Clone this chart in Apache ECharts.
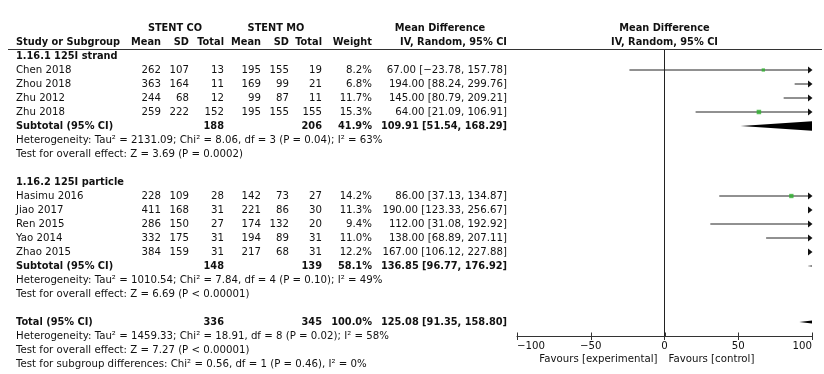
<!DOCTYPE html>
<html><head><meta charset="utf-8">
<script src="https://cdn.jsdelivr.net/npm/echarts@6/dist/echarts.min.js"></script>
<style>html,body{margin:0;padding:0;background:#fff}#c{width:824px;height:374px}</style>
</head><body><div id="c"></div>
<script>
// ---- data ----
const studies = ['Chen 2018','Zhou 2018','Zhu 2012','Zhu 2018','Hasimu 2016','Jiao 2017','Ren 2015','Yao 2014','Zhao 2015'];
const coMean  = [262,363,244,259,228,411,286,332,384];
const coSD    = [107,164,68,222,109,168,150,175,159];
const coTotal = [13,11,12,152,28,31,27,31,31];
const moMean  = [195,169,99,195,142,221,174,194,217];
const moSD    = [155,99,87,155,73,86,132,89,68];
const moTotal = [19,21,11,155,27,30,20,31,31];
const weight  = [8.2,6.8,11.7,15.3,14.2,11.3,9.4,11.0,12.2];
const md      = [67.00,194.00,145.00,64.00,86.00,190.00,112.00,138.00,167.00];
const ciLo    = [-23.78,88.24,80.79,21.09,37.13,123.33,31.08,68.89,106.12];
const ciHi    = [157.78,299.76,209.21,106.91,134.87,256.67,192.92,207.11,227.88];

const subgroupNames   = ['1.16.1 125I strand','1.16.2 125I particle'];
const subgroupMembers = [[0,1,2,3],[4,5,6,7,8]];
const subCO     = [188,148];
const subMO     = [206,139];
const subWeight = [41.9,58.1];
const subMD     = [109.91,136.85];
const subLo     = [51.54,96.77];
const subHi     = [168.29,176.92];
const subHet    = ['Heterogeneity: Tau² = 2131.09; Chi² = 8.06, df = 3 (P = 0.04); I² = 63%',
                   'Heterogeneity: Tau² = 1010.54; Chi² = 7.84, df = 4 (P = 0.10); I² = 49%'];
const subTest   = ['Test for overall effect: Z = 3.69 (P = 0.0002)',
                   'Test for overall effect: Z = 6.69 (P < 0.00001)'];
const totCO = 336, totMO = 345, totWeight = 100.0, totMD = 125.08, totLo = 91.35, totHi = 158.80;
const totHet  = 'Heterogeneity: Tau² = 1459.33; Chi² = 18.91, df = 8 (P = 0.02); I² = 58%';
const totTest = 'Test for overall effect: Z = 7.27 (P < 0.00001)';
const subDiff = 'Test for subgroup differences: Chi² = 0.56, df = 1 (P = 0.46), I² = 0%';
const xMin = -100, xMax = 100, xStep = 50;
const xTicks = [-100, -50, 0, 50, 100];
const favLeft = 'Favours [experimental]', favRight = 'Favours [control]';

// ---- styling / layout ----
const FONT = 'DejaVu Sans';
const FS = 10.2, FSB = 9.8;
const TXT = '#111';
const colX = {study:16, coMean:161, coSD:189, coTotal:224, moMean:261, moSD:289, moTotal:322, weight:372, ci:507};
const Y_MIN = -0.5, Y_MAX = 20;

const fmt = v => v.toFixed(2).replace('-', '−');
const ciStr = (m,l,h) => fmt(m) + ' [' + fmt(l) + ', ' + fmt(h) + ']';

// build table rows
const rows = [];
function numRow(r, name, a, bold){
  const cells = [{text:name, x:colX.study, align:'left', bold}];
  const keys = ['coMean','coSD','coTotal','moMean','moSD','moTotal','weight','ci'];
  keys.forEach((k,i)=>{ if (a[i] !== null && a[i] !== undefined) cells.push({text:String(a[i]), x:colX[k], align:'right', bold}); });
  rows.push({row:r, cells});
}
rows.push({row:-2, cells:[
  {text:'STENT CO', x:175, align:'center', bold:true},
  {text:'STENT MO', x:276, align:'center', bold:true},
  {text:'Mean Difference', x:440, align:'center', bold:true},
  {text:'Mean Difference', plotX:0, align:'center', bold:true}]});
rows.push({row:-1, cells:[
  {text:'Study or Subgroup', x:colX.study, align:'left', bold:true},
  {text:'Mean', x:colX.coMean, align:'right', bold:true},
  {text:'SD', x:colX.coSD, align:'right', bold:true},
  {text:'Total', x:colX.coTotal, align:'right', bold:true},
  {text:'Mean', x:colX.moMean, align:'right', bold:true},
  {text:'SD', x:colX.moSD, align:'right', bold:true},
  {text:'Total', x:colX.moTotal, align:'right', bold:true},
  {text:'Weight', x:colX.weight, align:'right', bold:true},
  {text:'IV, Random, 95% CI', x:colX.ci, align:'right', bold:true},
  {text:'IV, Random, 95% CI', plotX:0, align:'center', bold:true}]});

const ciData = [], sqData = [], diaData = [];
let r = 0;
subgroupMembers.forEach((mem, g) => {
  rows.push({row:r, cells:[{text:subgroupNames[g], x:colX.study, align:'left', bold:true}]});
  r++;
  mem.forEach(i => {
    numRow(r, studies[i], [coMean[i], coSD[i], coTotal[i], moMean[i], moSD[i], moTotal[i], weight[i].toFixed(1)+'%', ciStr(md[i], ciLo[i], ciHi[i])], false);
    ciData.push([ciLo[i], ciHi[i], r]);
    sqData.push([md[i], r, weight[i]]);
    r++;
  });
  numRow(r, 'Subtotal (95% CI)', [null, null, subCO[g], null, null, subMO[g], subWeight[g].toFixed(1)+'%', ciStr(subMD[g], subLo[g], subHi[g])], true);
  diaData.push([subLo[g], subMD[g], subHi[g], r]);
  r++;
  rows.push({row:r, cells:[{text:subHet[g], x:colX.study, align:'left', bold:false}]}); r++;
  rows.push({row:r, cells:[{text:subTest[g], x:colX.study, align:'left', bold:false}]}); r++;
  r++; // blank
});
numRow(r, 'Total (95% CI)', [null, null, totCO, null, null, totMO, totWeight.toFixed(1)+'%', ciStr(totMD, totLo, totHi)], true);
diaData.push([totLo, totMD, totHi, r]);
r++;
rows.push({row:r, cells:[{text:totHet, x:colX.study, align:'left', bold:false}]}); r++;
rows.push({row:r, cells:[{text:totTest, x:colX.study, align:'left', bold:false}]}); r++;
rows.push({row:r, cells:[{text:subDiff, x:colX.study, align:'left', bold:false}]}); r++;
rows.push({row:21.65, cells:[
  {text:favLeft, plotX:0, dx:-7, align:'right', bold:false},
  {text:favRight, plotX:0, dx:4, align:'left', bold:false}]});

const chart = echarts.init(document.getElementById('c'), null, {renderer:'canvas'});
chart.setOption({
  animation:false,
  backgroundColor:'#fff',
  textStyle:{fontFamily:FONT},
  graphic:[{type:'line', shape:{x1:8, y1:49.5, x2:822, y2:49.5}, style:{stroke:'#333', lineWidth:1}, z:100}],
  grid:{left:517, width:295, top:49, height:287},
  xAxis:{
    type:'value', min:xMin, max:xMax, interval:xStep,
    splitLine:{show:false},
    axisLine:{show:true, onZero:false, lineStyle:{color:'#333', width:1}},
    axisTick:{show:true, length:4, lineStyle:{color:'#333'}},
    axisLabel:{show:true, fontFamily:FONT, fontSize:10.2, color:TXT, margin:5,
      alignMinLabel:'left', alignMaxLabel:'right',
      formatter: v => String(v).replace('-', '−')}
  },
  yAxis:{type:'value', inverse:true, min:Y_MIN, max:Y_MAX, show:false},
  series:[
    {
      type:'custom', name:'table', clip:false, silent:true,
      data: rows.map(o => [o.row]),
      renderItem(params, api){
        const o = rows[params.dataIndex];
        const y = api.coord([0, api.value(0)])[1];
        return {type:'group', children: o.cells.map(c => ({
          type:'text',
          style:{
            text:c.text,
            x: (c.plotX !== undefined ? api.coord([c.plotX, 0])[0] + (c.dx||0) : c.x),
            y: y,
            align:c.align, verticalAlign:'middle',
            font: (c.bold ? 'bold ' + FSB : FS) + 'px "' + FONT + '"',
            fill: TXT
          }
        }))};
      }
    },
    {
      // axis baseline and upward half of the ticks
      type:'custom', name:'ticksUp', clip:false, silent:true, z:5,
      data: xTicks.map(t => [t, Y_MAX]),
      renderItem(params, api){
        const p = api.coord([api.value(0), api.value(1)]);
        const x = Math.round(p[0]) + 0.5;
        const yb = Math.round(p[1]) + 0.5;
        const ch = [{type:'line', shape:{x1:x, y1:yb, x2:x, y2:yb-4}, style:{stroke:'#333', lineWidth:1}}];
        if (params.dataIndex === 0) {
          const a = api.coord([xMin, Y_MAX]), b = api.coord([xMax, Y_MAX]);
          ch.push({type:'line', shape:{x1:a[0], y1:yb, x2:b[0], y2:yb}, style:{stroke:'#333', lineWidth:1}});
        }
        return {type:'group', children:ch};
      }
    },
    {
      type:'custom', name:'ci', clip:false, silent:true,
      data: ciData,
      renderItem(params, api){
        const lo = api.value(0), hi = api.value(1), row = api.value(2);
        const pR = api.coord([Math.min(hi, xMax), row]);
        const pL = api.coord([Math.max(lo, xMin), row]);
        const ch = [];
        const arrow = hi > xMax;
        if (lo < xMax) ch.push({type:'line', shape:{x1:pL[0], y1:pL[1], x2:pR[0] - (arrow ? 3 : 0), y2:pR[1]}, style:{stroke:'#222', lineWidth:1}});
        if (arrow) ch.push({type:'polygon', shape:{points:[[pR[0]+0.5, pR[1]], [pR[0]-4, pR[1]-3.5], [pR[0]-4, pR[1]+3.5]]}, style:{fill:'#111'}});
        return {type:'group', children:ch};
      },
      markLine:{silent:true, symbol:['none','none'], label:{show:false},
        lineStyle:{color:'#222', width:1, type:'solid'}, data:[{xAxis:0}]}
    },
    {
      type:'scatter', name:'effect', clip:true, silent:true,
      symbol:'rect',
      symbolSize: v => Math.sqrt(v[2]) * 1.15,
      itemStyle:{color:'#2eb02e'},
      data: sqData
    },
    {
      type:'custom', name:'diamond', clip:true, silent:true,
      data: diaData,
      renderItem(params, api){
        const row = api.value(3);
        const a = api.coord([api.value(0), row]);
        const m = api.coord([api.value(1), row]);
        const b = api.coord([api.value(2), row]);
        const h = 5.8;
        return {type:'polygon', shape:{points:[[a[0],a[1]],[m[0],m[1]-h],[b[0],b[1]],[m[0],m[1]+h]]}, style:{fill:'#000'}};
      }
    }
  ]
});
</script></body></html>
